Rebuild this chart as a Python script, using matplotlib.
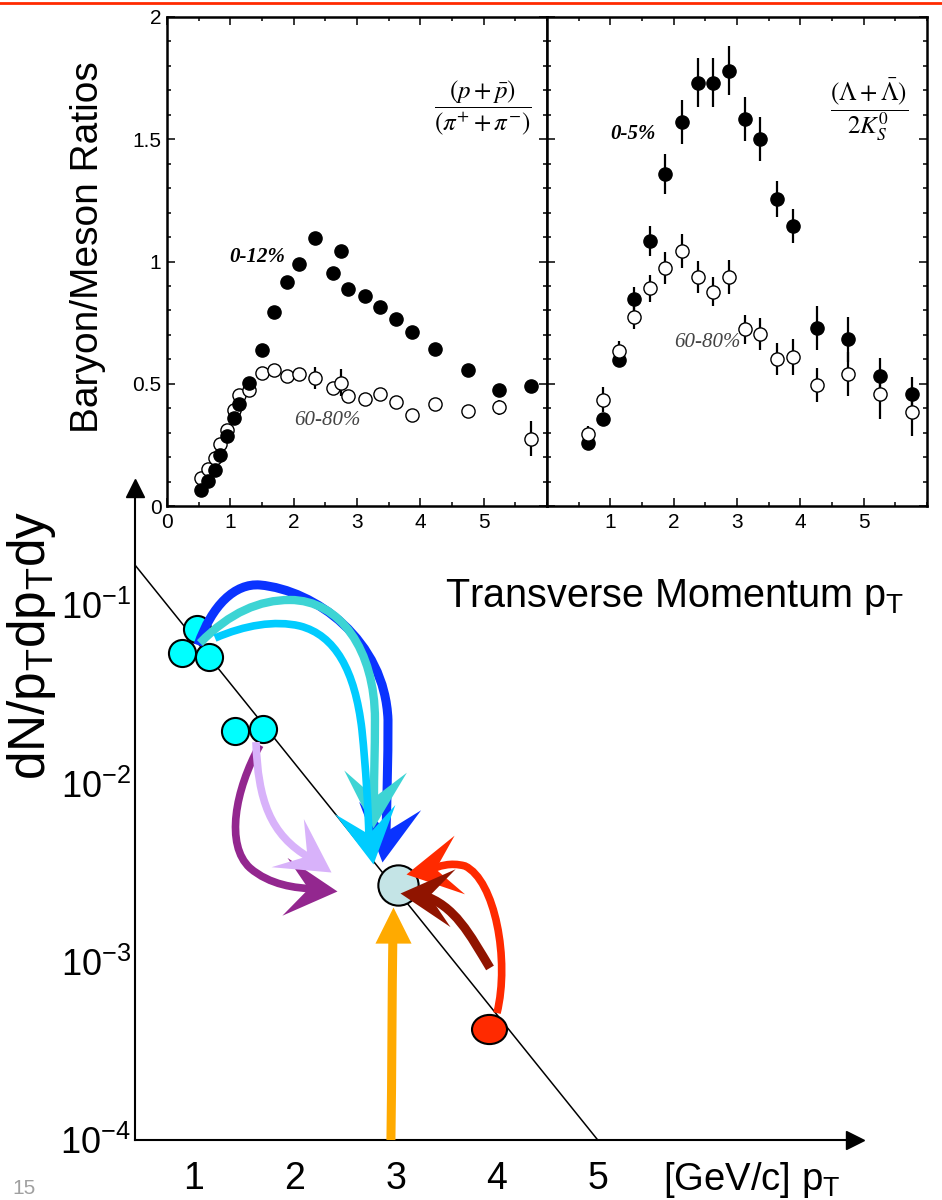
import numpy as np
import matplotlib
matplotlib.use("Agg")
import matplotlib.pyplot as plt
from matplotlib.path import Path
from matplotlib.patches import PathPatch
from matplotlib.markers import MarkerStyle
from matplotlib.transforms import Affine2D
from matplotlib.lines import Line2D
from matplotlib.ticker import MultipleLocator, NullLocator

plt.rcParams['font.family'] = ['Liberation Sans', 'DejaVu Sans']
plt.rcParams['mathtext.fontset'] = 'custom'
plt.rcParams['mathtext.rm'] = 'Liberation Sans'
plt.rcParams['mathtext.it'] = 'Liberation Sans:italic'
plt.rcParams['mathtext.bf'] = 'Liberation Sans:bold'

# ---- top left: (p+pbar)/(pi+ + pi-) ----
pp_pt = [0.54, 0.65, 0.75, 0.83, 0.95, 1.05, 1.14, 1.30, 1.50, 1.69, 1.89, 2.09,
         2.34, 2.62, 2.75, 2.86, 3.12, 3.36, 3.62, 3.87, 4.23, 4.75, 5.24, 5.74]
pp_central = [0.067, 0.104, 0.146, 0.21, 0.287, 0.358, 0.419, 0.504, 0.64, 0.795, 0.917, 0.991,
              1.098, 0.952, 1.043, 0.887, 0.859, 0.815, 0.766, 0.713, 0.643, 0.556, 0.474, 0.49]
pp_periph = [0.116, 0.153, 0.198, 0.253, 0.31, 0.392, 0.453, 0.474, 0.542, 0.556, 0.532, 0.539,
             0.522, 0.483, 0.505, 0.449, 0.438, 0.457, 0.426, 0.371, 0.419, 0.389, 0.403, 0.276]
pp_periph_err = [0, 0, 0, 0, 0, 0, 0, 0, 0, 0, 0.015, 0.02,
                 0.045, 0, 0.055, 0, 0, 0, 0, 0, 0, 0.01, 0.03, 0.072]

# ---- top right: (Lambda+Lambdabar)/2K0s ----
lk_pt = [0.64, 0.88, 1.13, 1.38, 1.62, 1.87, 2.13, 2.38, 2.62, 2.88, 3.13, 3.37,
         3.63, 3.88, 4.26, 4.76, 5.25, 5.76]
lk_central = [0.258, 0.354, 0.597, 0.845, 1.084, 1.358, 1.569, 1.732, 1.732, 1.780, 1.582, 1.50,
              1.256, 1.145, 0.730, 0.683, 0.532, 0.457]
lk_central_err = [0.01, 0.015, 0.02, 0.05, 0.06, 0.08, 0.09, 0.1, 0.1, 0.1, 0.09, 0.09,
                  0.075, 0.07, 0.09, 0.092, 0.075, 0.07]
lk_periph = [0.296, 0.435, 0.635, 0.774, 0.89, 0.972, 1.043, 0.938, 0.876, 0.938, 0.722, 0.702,
             0.601, 0.61, 0.494, 0.538, 0.457, 0.385]
lk_periph_err = [0.03, 0.05, 0.04, 0.05, 0.055, 0.065, 0.07, 0.065, 0.06, 0.07, 0.06, 0.065,
                 0.065, 0.075, 0.07, 0.09, 0.1, 0.1]

# ---- bottom sketch (pT, log10 dN/pTdpTdy) ----
line_pt = [0.418, 5.0]
line_lg = [-0.775, -4.0]
cyan_pt = [1.035, 0.880, 1.150, 1.411, 1.685]
cyan_lg = [-1.136, -1.270, -1.293, -1.708, -1.695]
target_pt, target_lg = 3.022, -2.570
red_pt, red_lg = 3.923, -3.377

# arrows: bezier control points, then tip
arrows = [
    # colour, lw, head size, pT list, log list, tip pT, tip log
    ('#0A33FF', 6.5, 82,
     [1.042, 1.180, 1.408, 1.655, 2.200, 2.893, 2.923, 2.923, 2.913, 2.903],
     [-1.224, -0.999, -0.876, -0.887, -0.915, -1.196, -1.644, -1.869, -2.093, -2.273],
     2.863, -2.441),
    ('#3DD4D4', 6.0, 82,
     [1.061, 1.358, 1.655, 1.952, 2.448, 2.794, 2.794, 2.794, 2.784, 2.784],
     [-1.213, -1.039, -0.971, -0.971, -0.971, -1.252, -1.644, -1.813, -1.953, -2.093],
     2.774, -2.250),
    ('#00CCFF', 5.5, 80,
     [1.210, 1.507, 1.804, 2.051, 2.398, 2.596, 2.665, 2.705, 2.725, 2.735],
     [-1.185, -1.112, -1.084, -1.117, -1.168, -1.364, -1.700, -1.925, -2.121, -2.306],
     2.774, -2.452),
    ('#93278F', 5.5, 76,
     [1.655, 1.408, 1.309, 1.556, 1.754, 2.002, 2.200],
     [-1.785, -2.037, -2.345, -2.474, -2.570, -2.587, -2.592],
     2.418, -2.603),
    ('#D8B2FA', 5.5, 76,
     [1.616, 1.636, 1.754, 2.150],
     [-1.768, -2.093, -2.289, -2.418],
     2.358, -2.497),
    ('#FF2A00', 5.5, 78,
     [4.002, 4.131, 3.982, 3.685, 3.537, 3.438, 3.319],
     [-3.288, -2.990, -2.542, -2.463, -2.441, -2.463, -2.486],
     3.101, -2.508),
    ('#901400', 6.5, 76,
     [3.933, 3.735, 3.586, 3.259],
     [-3.035, -2.850, -2.682, -2.626],
     3.041, -2.615),
]
orange_pt = [2.952, 2.962, 2.962, 2.972]
orange_lg = [-4.0, -3.607, -3.215, -2.822]
orange_tip = (2.972, -2.693)

W, H = 942, 1200
fig = plt.figure(figsize=(W / 100, H / 100), dpi=100)

serif = 'Liberation Serif'


def style_ratio_axes(ax):
    ax.set_xlim(0, 6)
    ax.set_ylim(0, 2)
    ax.xaxis.set_minor_locator(MultipleLocator(0.5))
    ax.yaxis.set_minor_locator(MultipleLocator(0.1))
    ax.tick_params(which='both', direction='in', top=True, right=True, width=1.1)
    ax.tick_params(which='major', length=6, labelsize=15)
    ax.tick_params(which='minor', length=3)
    ax.tick_params(axis='x', pad=5)
    ax.tick_params(axis='y', pad=4)
    for s in ax.spines.values():
        s.set_linewidth(1.8)


axL = fig.add_axes([167 / W, 1 - 506 / H, 380 / W, 489 / H])
axR = fig.add_axes([547 / W, 1 - 506 / H, 380 / W, 489 / H])
for ax in (axL, axR):
    style_ratio_axes(ax)

axL.set_xticks(range(0, 6), [str(i) for i in range(0, 6)])
axL.set_yticks([0, 0.5, 1, 1.5, 2], ['0', '0.5', '1', '1.5', '2'])
axR.set_xticks(range(1, 6), [str(i) for i in range(1, 6)])
axR.set_yticks([0, 0.5, 1, 1.5, 2], [])

axL.errorbar(pp_pt, pp_periph, yerr=pp_periph_err, fmt='o', ms=9.5, mfc='white', mec='black',
             mew=1.0, ecolor='black', elinewidth=1.6, capsize=0, zorder=3)
axL.plot(pp_pt, pp_central, 'o', ms=9.5, color='black', zorder=4)

axR.errorbar(lk_pt, lk_central, yerr=lk_central_err, fmt='o', ms=9.5, mfc='black', mec='black',
             ecolor='black', elinewidth=1.6, capsize=0, zorder=3)
axR.errorbar(lk_pt, lk_periph, yerr=lk_periph_err, fmt='o', ms=9.5, mfc='white', mec='black',
             mew=1.0, ecolor='black', elinewidth=1.6, capsize=0, zorder=4)

axL.text(1.42, 1.02, '0-12%', family=serif, style='italic', weight='bold', fontsize=15,
         ha='center', va='center')
axL.text(2.53, 0.35, '60-80%', family=serif, style='italic', fontsize=15, color='#444444',
         ha='center', va='center')
axL.text(4.98, 1.63, r'$\dfrac{(p+\bar{p})}{(\pi^{+}+\pi^{-})}$', math_fontfamily='stix',
         fontsize=18, ha='center', va='center')
axR.text(1.35, 1.52, '0-5%', family=serif, style='italic', weight='bold', fontsize=15,
         ha='center', va='center')
axR.text(2.53, 0.67, '60-80%', family=serif, style='italic', fontsize=15, color='#444444',
         ha='center', va='center')
axR.text(5.09, 1.62, r'$\dfrac{(\Lambda+\bar{\Lambda})}{2K_{S}^{0}}$', math_fontfamily='stix',
         fontsize=18, ha='center', va='center')

fig.text(88 / W, 1 - 247 / H, 'Baryon/Meson Ratios', rotation=90, fontsize=28,
         ha='center', va='center')
fig.text(445 / W, 1 - 597 / H, r'Transverse Momentum p$_\mathrm{T}$', fontsize=28.5,
         ha='left', va='center')

# ---- sketch ----
axS = fig.add_axes([135 / W, 1 - 1140 / H, (855 - 135) / W, (1140 - 488) / H])
axS.patch.set_alpha(0)
axS.set_xlim(0.418, 7.547)
axS.set_yscale('log')
axS.set_ylim(1e-4, 10 ** -0.343)
for side in ('top', 'right'):
    axS.spines[side].set_visible(False)
for side in ('left', 'bottom'):
    axS.spines[side].set_linewidth(1.5)
axS.set_xticks([1, 2, 3, 4, 5], ['1', '2', '3', '4', '5'])
axS.set_yticks([1e-1, 1e-2, 1e-3, 1e-4],
               [r'10$^{-1}$', r'10$^{-2}$', r'10$^{-3}$', r'10$^{-4}$'])
axS.yaxis.set_minor_locator(NullLocator())
axS.tick_params(axis='both', length=0)
axS.tick_params(axis='x', labelsize=27, pad=15)
axS.tick_params(axis='y', labelsize=26, pad=3)
axS.plot(1, 0, '>k', ms=13, transform=axS.transAxes, clip_on=False)
axS.plot(0, 1, '^k', ms=13, transform=axS.transAxes, clip_on=False)

axS.plot(line_pt, 10 ** np.array(line_lg), color='black', lw=1.1, zorder=1, clip_on=False)
axS.plot(cyan_pt, 10 ** np.array(cyan_lg), 'o', ms=19.5, mfc='#00FFFF', mec='black',
         mew=1.5, zorder=2)
axS.plot(target_pt, 10 ** target_lg, 'o', ms=29, mfc='#C4E4E6', mec='black', mew=1.5, zorder=2)
axS.plot(red_pt, 10 ** red_lg, marker=MarkerStyle('o', transform=Affine2D().scale(1.2, 1.0)),
         ms=21, mfc='#FF2A00', mec='black', mew=1.5, ls='none', zorder=2)

stealth = Path([(0, 0), (-1, 0.55), (-0.55, 0), (-1, -0.55), (0, 0)],
               [Path.MOVETO, Path.LINETO, Path.LINETO, Path.LINETO, Path.CLOSEPOLY])
triangle = Path([(0, 0), (-1, 0.5), (-1, -0.5), (0, 0)],
                [Path.MOVETO, Path.LINETO, Path.LINETO, Path.CLOSEPOLY])


def draw_arrow(ax, pts, lgs, tip, color, lw, head_ms, head, z):
    verts = np.column_stack([pts, 10 ** np.array(lgs)])
    codes = [Path.MOVETO] + [Path.CURVE4] * (len(verts) - 1)
    ax.add_patch(PathPatch(Path(verts, codes), fc='none', ec=color, lw=lw,
                           capstyle='butt', zorder=z, clip_on=False))
    tip_xy = (tip[0], 10 ** tip[1])
    p0 = ax.transData.transform(verts[-1])
    p1 = ax.transData.transform(tip_xy)
    ang = np.degrees(np.arctan2(p1[1] - p0[1], p1[0] - p0[0]))
    ax.plot(*tip_xy, marker=MarkerStyle(head, transform=Affine2D().rotate_deg(ang)),
            ms=head_ms, mfc=color, mec=color, mew=0, ls='none', zorder=z, clip_on=False)


for i, (col, lw, hs, pts, lgs, tpt, tlg) in enumerate(arrows):
    draw_arrow(axS, pts, lgs, (tpt, tlg), col, lw, hs, stealth, 3 + i * 0.1)
draw_arrow(axS, orange_pt, orange_lg, orange_tip, '#FFAA00', 6.5, 52, triangle, 3)

fig.text(32 / W, 1 - 645 / H, r'dN/p$_\mathrm{T}$dp$_\mathrm{T}$dy', rotation=90, fontsize=37,
         ha='center', va='center')
fig.text(663 / W, 1 - 1180 / H, r'[GeV/c] p$_\mathrm{T}$', fontsize=27.5, ha='left', va='center')
fig.text(12 / W, 1 - 1188 / H, '15', fontsize=15, color='#A0A0A0', ha='left', va='center')

fig.add_artist(Line2D([0, 1], [1 - 2.5 / H, 1 - 2.5 / H], color='#FF2A00', lw=2))

fig.savefig('out.png', dpi=100)
